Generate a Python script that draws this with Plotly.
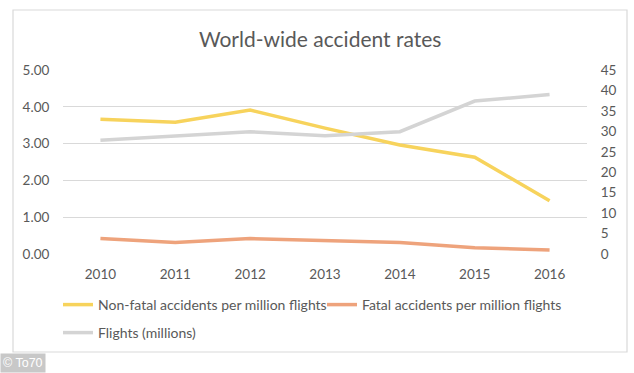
import plotly.graph_objects as go

years = ["2010", "2011", "2012", "2013", "2014", "2015", "2016"]
non_fatal = [3.66, 3.58, 3.91, 3.42, 2.96, 2.63, 1.45]
fatal = [0.42, 0.31, 0.42, 0.36, 0.31, 0.17, 0.11]
flights = [27.8, 28.9, 29.9, 28.9, 29.9, 37.4, 39.0]

left_ticks = [0, 1, 2, 3, 4, 5]
left_labels = ["0.00", "1.00", "2.00", "3.00", "4.00", "5.00"]
right_ticks = [0, 5, 10, 15, 20, 25, 30, 35, 40, 45]

W, H = 634, 373
L, R, T, B = 63, 47, 70, 119
pw, ph = W - L - R, H - T - B

def px(x):
    return (x - L) / pw

def py(y):
    return (H - B - y) / ph

FONT = "Lato, 'Open Sans', sans-serif"
TXT = "#595959"

fig = go.Figure()
fig.add_trace(go.Scatter(x=years, y=non_fatal, mode="lines", name="Non-fatal accidents per million flights",
                         line=dict(color="#F7D35C", width=3.5), legend="legend"))
fig.add_trace(go.Scatter(x=years, y=fatal, mode="lines", name="Fatal accidents per million flights",
                         line=dict(color="#EEA37C", width=3.5), legend="legend"))
fig.add_trace(go.Scatter(x=years, y=flights, mode="lines", name="Flights (millions)", yaxis="y2",
                         line=dict(color="#D4D4D4", width=3.5), legend="legend2"))

fig.update_layout(
    width=W, height=H,
    margin=dict(l=L, r=R, t=T, b=B),
    paper_bgcolor="white", plot_bgcolor="white",
    font=dict(family=FONT, color=TXT, size=12),
    title=dict(text="World-wide accident rates", x=0.505, xref="container", xanchor="center",
               y=1 - 40 / H, yref="container", yanchor="middle",
               font=dict(size=21, color=TXT, family=FONT)),
    xaxis=dict(type="category", range=[-0.5, 6.5], showgrid=False, zeroline=False,
               showline=False, ticks="outside", ticklen=8, tickcolor="rgba(0,0,0,0)",
               tickfont=dict(size=13.5, color=TXT)),
    yaxis=dict(range=[0, 5], tickvals=left_ticks, ticktext=left_labels, showgrid=True,
               gridcolor="#D9D9D9", gridwidth=1, zeroline=False, showline=False,
               ticks="outside", ticklen=10, tickcolor="rgba(0,0,0,0)",
               tickfont=dict(size=13.5, color=TXT)),
    yaxis2=dict(range=[0, 45], tickvals=right_ticks, overlaying="y", side="right",
                showgrid=False, zeroline=False, showline=False,
                ticks="outside", ticklen=10, tickcolor="rgba(0,0,0,0)",
                tickfont=dict(size=13.5, color=TXT)),
    legend=dict(orientation="h", x=px(58), y=py(305), xanchor="left", yanchor="middle",
                entrywidth=219, font=dict(size=14, color=TXT), itemwidth=30,
                bgcolor="rgba(0,0,0,0)"),
    legend2=dict(orientation="h", x=px(58), y=py(333), xanchor="left", yanchor="middle",
                 font=dict(size=14, color=TXT), itemwidth=30,
                 bgcolor="rgba(0,0,0,0)"),
    showlegend=True,
    shapes=[dict(type="rect", xref="paper", yref="paper", x0=px(13), x1=px(627),
                 y0=py(352), y1=py(10), line=dict(color="#D9D9D9", width=1.2), layer="below")],
    annotations=[dict(text="© To70", xref="paper", yref="paper", x=px(0), y=py(373),
                      xanchor="left", yanchor="bottom", showarrow=False,
                      bgcolor="#C8C8C8", borderpad=2,
                      font=dict(color="white", size=12.5, family="'Liberation Sans', Arial, sans-serif"))],
)

fig.write_html("out.html", config={"displayModeBar": False},
               post_script="document.body.style.margin='0px';document.body.style.overflow='hidden';")
